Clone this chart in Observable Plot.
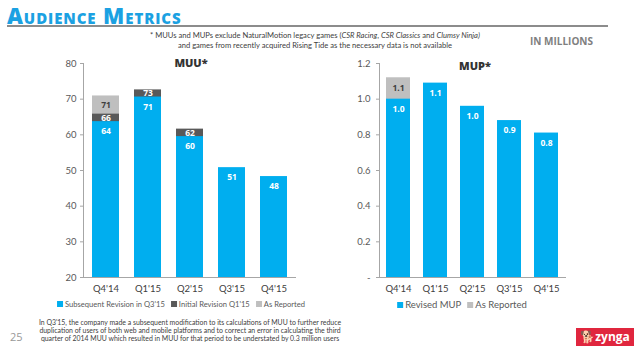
<!DOCTYPE html>
<html><head><meta charset="utf-8">
<script src="https://cdn.jsdelivr.net/npm/d3@7"></script>
<script src="https://cdn.jsdelivr.net/npm/@observablehq/plot@0.6"></script>
<style>
  html,body{margin:0;padding:0;background:#fff;}
  #page{position:relative;width:640px;height:354px;overflow:hidden;font-family:Lato,"Open Sans",sans-serif;}
  .abs{position:absolute;white-space:nowrap;}
  .title{left:7px;top:0px;font-family:"Open Sans",sans-serif;font-weight:800;font-size:22px;line-height:30px;color:#1BA1E2;font-variant:small-caps;letter-spacing:0.9px;}
  .rule{left:7px;top:25px;width:601px;height:2px;background:#8c8c8c;}
  .note{left:0;width:630px;top:30px;text-align:center;font-size:7.6px;line-height:10px;color:#404040;}
  .units{left:530px;top:34px;font-family:"Open Sans",sans-serif;font-weight:700;font-size:10px;color:#7f7f7f;}
  .ctitle{font-family:"Open Sans",sans-serif;font-weight:800;font-size:11px;color:#333;transform:translateX(-50%);}
  .legend{font-size:7.6px;color:#595959;transform:translateX(-50%);}
  .legend span.sw{display:inline-block;width:6px;height:6px;margin-right:2px;vertical-align:0px;}
  .legend span.it{margin-right:6px;}
  .foot{left:190px;top:318px;text-align:center;font-size:6.9px;line-height:8.2px;color:#404040;transform:translateX(-50%);}
  .page{left:10px;top:329px;font-size:11px;color:#999;font-family:"Open Sans",sans-serif;}
  .logo{left:576px;top:328px;width:58px;height:18px;background:#E0263E;color:#fff;font-family:"Open Sans",sans-serif;font-weight:700;font-size:12px;line-height:18px;text-align:center;}
  svg{overflow:visible;}
</style></head>
<body><div id="page">
  <div class="abs rule"></div>
  <div class="abs title">Audience Metrics</div>
  <div class="abs note">* MUUs and MUPs exclude NaturalMotion legacy games (<i>CSR Racing</i>, <i>CSR Classics</i> and <i>Clumsy Ninja)</i><br>and games from recently acquired Rising Tide as the necessary data is not available</div>
  <div class="abs units">IN MILLIONS</div>
  <div id="muu" class="abs" style="left:40px;top:55px;"></div>
  <div id="mup" class="abs" style="left:330px;top:55px;"></div>
  <div class="abs ctitle" style="left:191px;top:55px;">MUU*</div>
  <div class="abs ctitle" style="left:475px;top:58px;">MUP*</div>
  <div id="leg1" class="abs legend" style="left:184px;top:299px;"></div>
  <div id="leg2" class="abs legend" style="left:465px;top:299px;font-size:9.5px;"></div>
  <div class="abs foot">In Q3'15, the company made a subsequent modification to its calculations of MUU to further reduce<br>duplication of users of both web and mobile platforms and to correct an error in calculating the third<br>quarter of 2014 MUU which resulted in MUU for that period to be understated by 0.3 million users</div>
  <div class="abs page">25</div>
  <div class="abs logo">&#x1F415;zynga</div>
</div>
<script>
// ---- data ----
const quarters = ["Q4'14", "Q1'15", "Q2'15", "Q3'15", "Q4'15"];
const muuRevised = [63.7, 70.6, 59.5, 50.8, 48.3];
const muuInitial = [65.8, 72.6, 61.6, null, null];
const muuReported = [70.9, null, null, null, null];
const muuDomain = [20, 80];
const muuTicks = [20, 30, 40, 50, 60, 70, 80];
const mupRevised = [1.00, 1.09, 0.96, 0.88, 0.81];
const mupReported = [1.12, null, null, null, null];
const mupDomain = [0, 1.2];
const mupTicks = [0, 0.2, 0.4, 0.6, 0.8, 1.0, 1.2];
const muuSeries = ["Subsequent Revision in Q3'15", "Initial Revision Q1'15", "As Reported"];
const mupSeries = ["Revised MUP", "As Reported"];

const BLUE = "#00AEEF", DARK = "#595959", LIGHT = "#BFBFBF", AXIS = "#A6A6A6";
const FONT = "Lato,'Open Sans',sans-serif";

function rows(revised, extra) {
  return quarters.map((q, i) => {
    const r = {q, revised: revised[i]};
    for (const k in extra) r[k] = extra[k][i];
    return r;
  });
}

const muu = rows(muuRevised, {initial: muuInitial, reported: muuReported});
const mup = rows(mupRevised, {reported: mupReported});

const muuInitSeg = muu.filter(d => d.initial != null).map(d => ({q: d.q, lo: d.revised, hi: d.initial}));
const muuRepSeg = muu.filter(d => d.reported != null).map(d => ({q: d.q, lo: d.initial ?? d.revised, hi: d.reported}));
const mupRepSeg = mup.filter(d => d.reported != null).map(d => ({q: d.q, lo: d.revised, hi: d.reported}));

const lbl = {fontSize: 8.5, fontWeight: "bold", fontFamily: "'Open Sans',sans-serif"};

const muuPlot = Plot.plot({
  width: 270, height: 245,
  marginLeft: 43, marginRight: 15, marginTop: 8, marginBottom: 23,
  style: {fontFamily: FONT, fontSize: "9.5px", color: "#595959", background: "transparent"},
  x: {domain: quarters, paddingInner: 0.36, paddingOuter: 0.2, label: null},
  y: {domain: muuDomain, label: null},
  marks: [
    Plot.barY(muuRepSeg, {x: "q", y1: muuDomain[0], y2: "hi", fill: LIGHT}),
    Plot.barY(muuInitSeg, {x: "q", y1: muuDomain[0], y2: "hi", fill: DARK}),
    Plot.barY(muu, {x: "q", y1: muuDomain[0], y2: "revised", fill: BLUE}),
    Plot.frame({anchor: "left", stroke: AXIS}),
    Plot.frame({anchor: "bottom", stroke: AXIS}),
    Plot.axisY({ticks: muuTicks, tickSize: 3, tickPadding: 4, stroke: AXIS, fill: "#595959", label: null}),
    Plot.axisX({tickSize: 0, tickPadding: 8, fill: "#404040", label: null}),
    Plot.text(muu, {x: "q", y: "revised", text: d => d3.format(".0f")(d.revised), dy: 10, fill: "white", ...lbl}),
    Plot.text(muuInitSeg, {x: "q", y: d => (d.lo + d.hi) / 2, text: d => d3.format(".0f")(d.hi), fill: "white", ...lbl}),
    Plot.text(muuRepSeg, {x: "q", y: d => (d.lo + d.hi) / 2, text: d => d3.format(".0f")(d.hi), fill: "#404040", ...lbl})
  ]
});
document.getElementById("muu").append(muuPlot);

const mupPlot = Plot.plot({
  width: 240, height: 245,
  marginLeft: 49, marginRight: 5, marginTop: 8, marginBottom: 23,
  style: {fontFamily: FONT, fontSize: "9.5px", color: "#595959", background: "transparent"},
  x: {domain: quarters, paddingInner: 0.343, paddingOuter: 0.16, label: null},
  y: {domain: mupDomain, label: null},
  marks: [
    Plot.barY(mupRepSeg, {x: "q", y1: mupDomain[0], y2: "hi", fill: LIGHT}),
    Plot.barY(mup, {x: "q", y1: mupDomain[0], y2: "revised", fill: BLUE}),
    Plot.frame({anchor: "left", stroke: AXIS}),
    Plot.frame({anchor: "bottom", stroke: AXIS}),
    Plot.axisY({ticks: mupTicks, tickSize: 3, tickPadding: 6, stroke: AXIS, fill: "#595959", label: null,
      tickFormat: d => d === 0 ? "-" : d3.format(".1f")(d)}),
    Plot.axisX({tickSize: 0, tickPadding: 8, fill: "#404040", label: null}),
    Plot.text(mup, {x: "q", y: "revised", text: d => d3.format(".1f")(d.revised), dy: 10, fill: "white", ...lbl}),
    Plot.text(mupRepSeg, {x: "q", y: d => (d.lo + d.hi) / 2, text: d => d3.format(".1f")(d.hi), fill: "#404040", ...lbl})
  ]
});
document.getElementById("mup").append(mupPlot);

function legend(el, names, colors) {
  el.innerHTML = names.map((n, i) =>
    `<span class="it"><span class="sw" style="background:${colors[i]}"></span>${n}</span>`).join("");
}
legend(document.getElementById("leg1"), muuSeries, [BLUE, DARK, LIGHT]);
legend(document.getElementById("leg2"), mupSeries, [BLUE, LIGHT]);
</script>
</body></html>
